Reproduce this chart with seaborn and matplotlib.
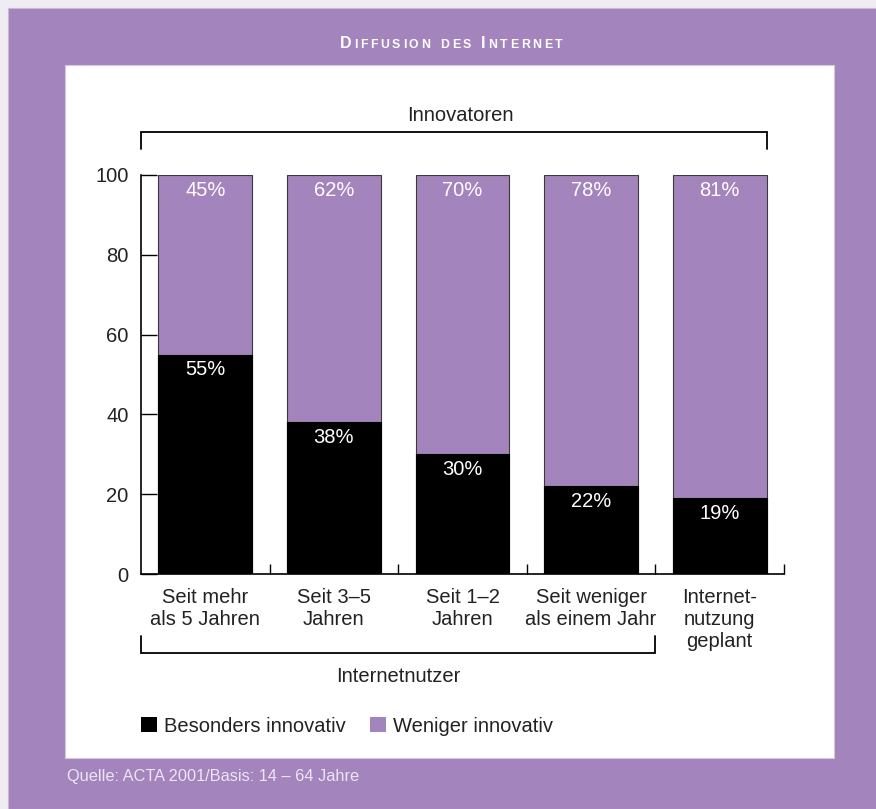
import matplotlib
matplotlib.use("Agg")
import matplotlib.pyplot as plt
from matplotlib.patches import Rectangle, Patch
import seaborn as sns
import pandas as pd

# Data
categories = ["Seit mehr\nals 5 Jahren", "Seit 3–5\nJahren", "Seit 1–2\nJahren",
              "Seit weniger\nals einem Jahr", "Internet-\nnutzung\ngeplant"]
besonders = [55, 38, 30, 22, 19]
weniger = [45, 62, 70, 78, 81]
yticks = [0, 20, 40, 60, 80, 100]

PURPLE = "#a484bc"
FRAME_BG = "#efecf3"
FONT = ["Liberation Sans", "DejaVu Sans"]
TXT = "#222222"
FS = 14.5

sns.set_theme(style="white")
plt.rcParams["font.family"] = FONT

df = pd.DataFrame({
    "cat": categories,
    "besonders": besonders,
    "total": [b + w for b, w in zip(besonders, weniger)],
})

fig = plt.figure(figsize=(8.76, 8.09), dpi=100)
fig.patch.set_facecolor(FRAME_BG)

# purple frame and white panel behind the chart
fig.patches.append(Rectangle((8 / 876, 0), 1, 1 - 8 / 809, transform=fig.transFigure,
                             facecolor=PURPLE, edgecolor="#c9b7d6", linewidth=0.8, zorder=-10))
fig.patches.append(Rectangle((65 / 876, 1 - 758 / 809), (834 - 65) / 876, (758 - 65) / 809,
                             transform=fig.transFigure, facecolor="white",
                             edgecolor="#d4c6df", linewidth=0.8, zorder=-9))

ax = fig.add_axes([141 / 876, 1 - 574 / 809, 643 / 876, 399 / 809])
ax.set_zorder(1)
ax.set_facecolor("none")

sns.barplot(data=df, x="cat", y="total", color=PURPLE, width=0.73, ax=ax,
            edgecolor="#3a3a3a", linewidth=0.8, saturation=1)
sns.barplot(data=df, x="cat", y="besonders", color="black", width=0.73, ax=ax,
            edgecolor="black", linewidth=0.8, saturation=1)

ax.set_xlim(-0.5, 4.5)
ax.set_ylim(0, 100)
ax.set_xlabel("")
ax.set_ylabel("")
ax.set_yticks(yticks)
ax.set_xticks(range(len(categories)))
ax.set_xticklabels(categories, fontsize=FS, color=TXT, linespacing=1.22)
ax.set_xticks([0.5, 1.5, 2.5, 3.5, 4.5], minor=True)
ax.tick_params(axis="x", which="major", length=0, pad=10)
ax.tick_params(axis="x", which="minor", direction="in", length=7, width=1, color="black",
               bottom=True)
ax.tick_params(axis="y", direction="in", length=11.5, width=1, color="black",
               labelsize=FS, labelcolor=TXT, pad=9, left=True)
for s in ["top", "right"]:
    ax.spines[s].set_visible(False)
for s in ["left", "bottom"]:
    ax.spines[s].set_color("black")
    ax.spines[s].set_linewidth(1.2)

# value labels
for i, (b, w) in enumerate(zip(besonders, weniger)):
    ax.annotate(f"{w}%", (i, b + w), xytext=(0, -11), textcoords="offset points",
                ha="center", va="center", color="white", fontsize=FS)
    ax.annotate(f"{b}%", (i, b), xytext=(0, -11), textcoords="offset points",
                ha="center", va="center", color="white", fontsize=FS)

# brackets
half = 0.73 / 2
ax.plot([-0.5, -0.5, 4 + half, 4 + half], [106.5, 110.8, 110.8, 106.5],
        color="black", lw=1.3, clip_on=False, solid_joinstyle="miter")
ax.text(1.98, 115.0, "Innovatoren", ha="center", va="center", fontsize=FS, color=TXT)
ax.plot([-0.5, -0.5, 3.5, 3.5], [-15.5, -19.8, -19.8, -15.5],
        color="black", lw=1.3, clip_on=False, solid_joinstyle="miter")
ax.text(1.5, -25.8, "Internetnutzer", ha="center", va="center", fontsize=FS, color=TXT)

# legend
handles = [Patch(facecolor="black", edgecolor="none", label="Besonders innovativ"),
           Patch(facecolor=PURPLE, edgecolor="none", label="Weniger innovativ")]
fig.legend(handles=handles, loc="center left", bbox_to_anchor=(123 / 876, 1 - 726 / 809),
           ncol=2, frameon=False, fontsize=FS, handlelength=0.8, handleheight=0.8,
           handletextpad=0.35, columnspacing=1.2, labelcolor=TXT)

# small-caps title, letter-spaced, centred over the white panel
title = "DIFFUSION DES INTERNET"
caps_first = {0, 14}
renderer = fig.canvas.get_renderer()
pieces = []
x_px = 0.0
gap = 2.6
base_y = 1 - 48 / 809
for k, ch in enumerate(title):
    size = 11.5 if k in caps_first else 8.8
    t = fig.text(0, base_y, ch, fontsize=size, fontweight="bold", color="white",
                 ha="left", va="baseline")
    w = t.get_window_extent(renderer).width if ch != " " else 5
    pieces.append((t, x_px))
    x_px += w + gap
total = x_px - gap
start = 451 - total / 2
for t, off in pieces:
    t.set_x((start + off) / 876)

fig.text(67 / 876, 1 - 777 / 809, "Quelle: ACTA 2001/Basis: 14 – 64 Jahre", ha="left",
         va="center", fontsize=11.8, color="#ece4f3")

fig.savefig("out.png", dpi=100, facecolor=fig.get_facecolor())
